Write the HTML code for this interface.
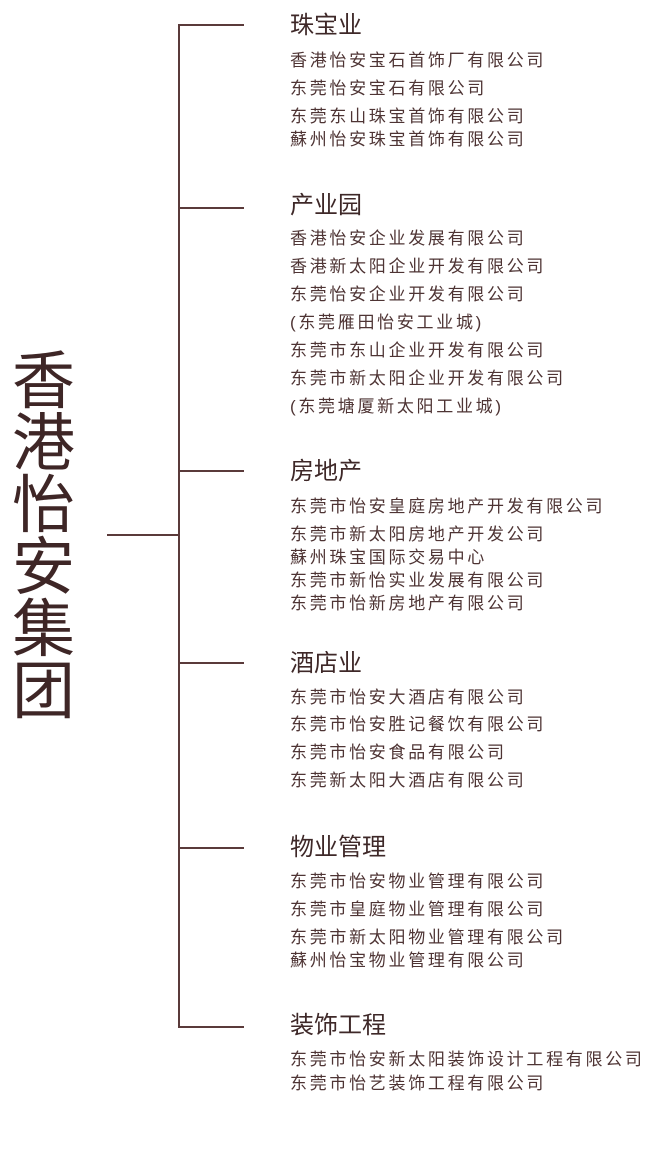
<!DOCTYPE html>
<html><head><meta charset="utf-8"><style>
html,body{margin:0;padding:0;background:#fff;width:648px;height:1152px;overflow:hidden;position:relative;
font-family:"Liberation Sans","Noto Sans CJK SC",sans-serif;color:#4e3434;}
.l{position:absolute;background:#5a3a3a;}
.t{position:absolute;left:12px;top:351px;font-size:63px;line-height:62px;width:70px;color:#3e2626;}
.h{position:absolute;left:290px;font-size:24px;line-height:24px;white-space:nowrap;color:#3e2828;}
.i{position:absolute;left:290px;font-size:17px;line-height:18px;letter-spacing:2.7px;white-space:nowrap;}
</style></head><body>
<div class="l" style="left:178px;top:25px;width:2px;height:1003px"></div>
<div class="l" style="left:107px;top:534px;width:72px;height:2px"></div>
<div class="l" style="left:178px;top:24px;width:66px;height:2px"></div>
<div class="l" style="left:178px;top:207px;width:66px;height:2px"></div>
<div class="l" style="left:178px;top:470px;width:66px;height:2px"></div>
<div class="l" style="left:178px;top:662px;width:66px;height:2px"></div>
<div class="l" style="left:178px;top:847px;width:66px;height:2px"></div>
<div class="l" style="left:178px;top:1026px;width:66px;height:2px"></div>
<div class="t">香<br>港<br>怡<br>安<br>集<br>团</div>

<div class="h" style="top:14px">珠宝业</div>
<div class="i" style="top:52px">香港怡安宝石首饰厂有限公司</div>
<div class="i" style="top:80px">东莞怡安宝石有限公司</div>
<div class="i" style="top:108px">东莞东山珠宝首饰有限公司</div>
<div class="i" style="top:131px">蘇州怡安珠宝首饰有限公司</div>

<div class="h" style="top:194px">产业园</div>
<div class="i" style="top:230px">香港怡安企业发展有限公司</div>
<div class="i" style="top:258px">香港新太阳企业开发有限公司</div>
<div class="i" style="top:286px">东莞怡安企业开发有限公司</div>
<div class="i" style="top:314px">(东莞雁田怡安工业城)</div>
<div class="i" style="top:342px">东莞市东山企业开发有限公司</div>
<div class="i" style="top:370px">东莞市新太阳企业开发有限公司</div>
<div class="i" style="top:398px">(东莞塘厦新太阳工业城)</div>

<div class="h" style="top:460px">房地产</div>
<div class="i" style="top:498px">东莞市怡安皇庭房地产开发有限公司</div>
<div class="i" style="top:526px">东莞市新太阳房地产开发公司</div>
<div class="i" style="top:549px">蘇州珠宝国际交易中心</div>
<div class="i" style="top:572px">东莞市新怡实业发展有限公司</div>
<div class="i" style="top:595px">东莞市怡新房地产有限公司</div>

<div class="h" style="top:652px">酒店业</div>
<div class="i" style="top:689px">东莞市怡安大酒店有限公司</div>
<div class="i" style="top:716px">东莞市怡安胜记餐饮有限公司</div>
<div class="i" style="top:744px">东莞市怡安食品有限公司</div>
<div class="i" style="top:772px">东莞新太阳大酒店有限公司</div>

<div class="h" style="top:836px">物业管理</div>
<div class="i" style="top:873px">东莞市怡安物业管理有限公司</div>
<div class="i" style="top:901px">东莞市皇庭物业管理有限公司</div>
<div class="i" style="top:929px">东莞市新太阳物业管理有限公司</div>
<div class="i" style="top:952px">蘇州怡宝物业管理有限公司</div>

<div class="h" style="top:1014px">装饰工程</div>
<div class="i" style="top:1051px">东莞市怡安新太阳装饰设计工程有限公司</div>
<div class="i" style="top:1075px">东莞市怡艺装饰工程有限公司</div>
</body></html>
